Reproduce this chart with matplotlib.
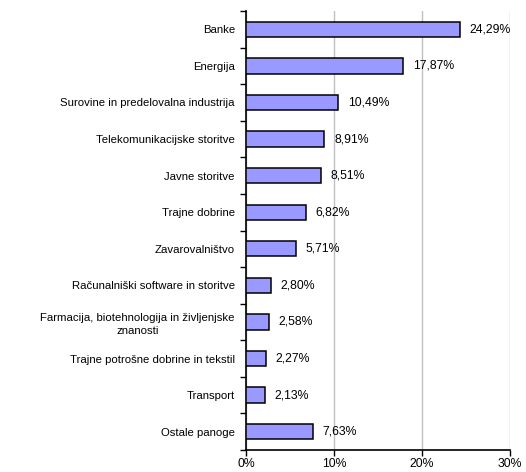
import numpy as np
import matplotlib
matplotlib.use("Agg")
import matplotlib.pyplot as plt

categories = ["Banke", "Energija", "Surovine in predelovalna industrija",
              "Telekomunikacijske storitve", "Javne storitve", "Trajne dobrine",
              "Zavarovalništvo", "Računalniški software in storitve",
              "Farmacija, biotehnologija in življenjske\nznanosti",
              "Trajne potrošne dobrine in tekstil", "Transport", "Ostale panoge"]
values = [24.29, 17.87, 10.49, 8.91, 8.51, 6.82, 5.71, 2.80, 2.58, 2.27, 2.13, 7.63]
xticks = [0, 10, 20, 30]

plt.rcParams.update({"font.family": ["Liberation Sans", "DejaVu Sans"], "font.size": 8.2})

fig = plt.figure(figsize=(5.26, 4.72), dpi=100)
ax = fig.add_axes([246/526, 1 - 450/472, 264/526, 439/472])

y = np.arange(len(categories))
ax.barh(y, values, height=0.42, color="#9999ff", edgecolor="black", linewidth=1.1, zorder=3)
for yi, v in zip(y, values):
    ax.text(v + 1.1, yi, f"{v:.2f}%".replace(".", ","), va="center", ha="left", fontsize=8.8)

ax.set_ylim(len(categories) - 0.5, -0.5)
ax.set_xlim(0, 30)
ax.set_xticks(xticks)
ax.set_xticklabels([f"{t}%" for t in xticks], fontsize=8.8)
ax.set_yticks(y)
ax.set_yticklabels(categories, linespacing=1.35)
ax.tick_params(axis="y", length=0, pad=8)
ax.set_yticks(np.arange(len(categories) + 1) - 0.5, minor=True)
ax.tick_params(axis="y", which="minor", length=4, width=1)
ax.tick_params(axis="x", length=4, width=1, pad=2)
ax.grid(axis="x", color="#c0c0c0", linewidth=1, zorder=0)
ax.set_axisbelow(True)
for s in ["top", "right"]:
    ax.spines[s].set_visible(False)
ax.spines["left"].set_linewidth(1.2)
ax.spines["bottom"].set_linewidth(1.2)
for lbl in ax.get_yticklabels():
    lbl.set_multialignment("center")

fig.savefig("out.png", dpi=100)
